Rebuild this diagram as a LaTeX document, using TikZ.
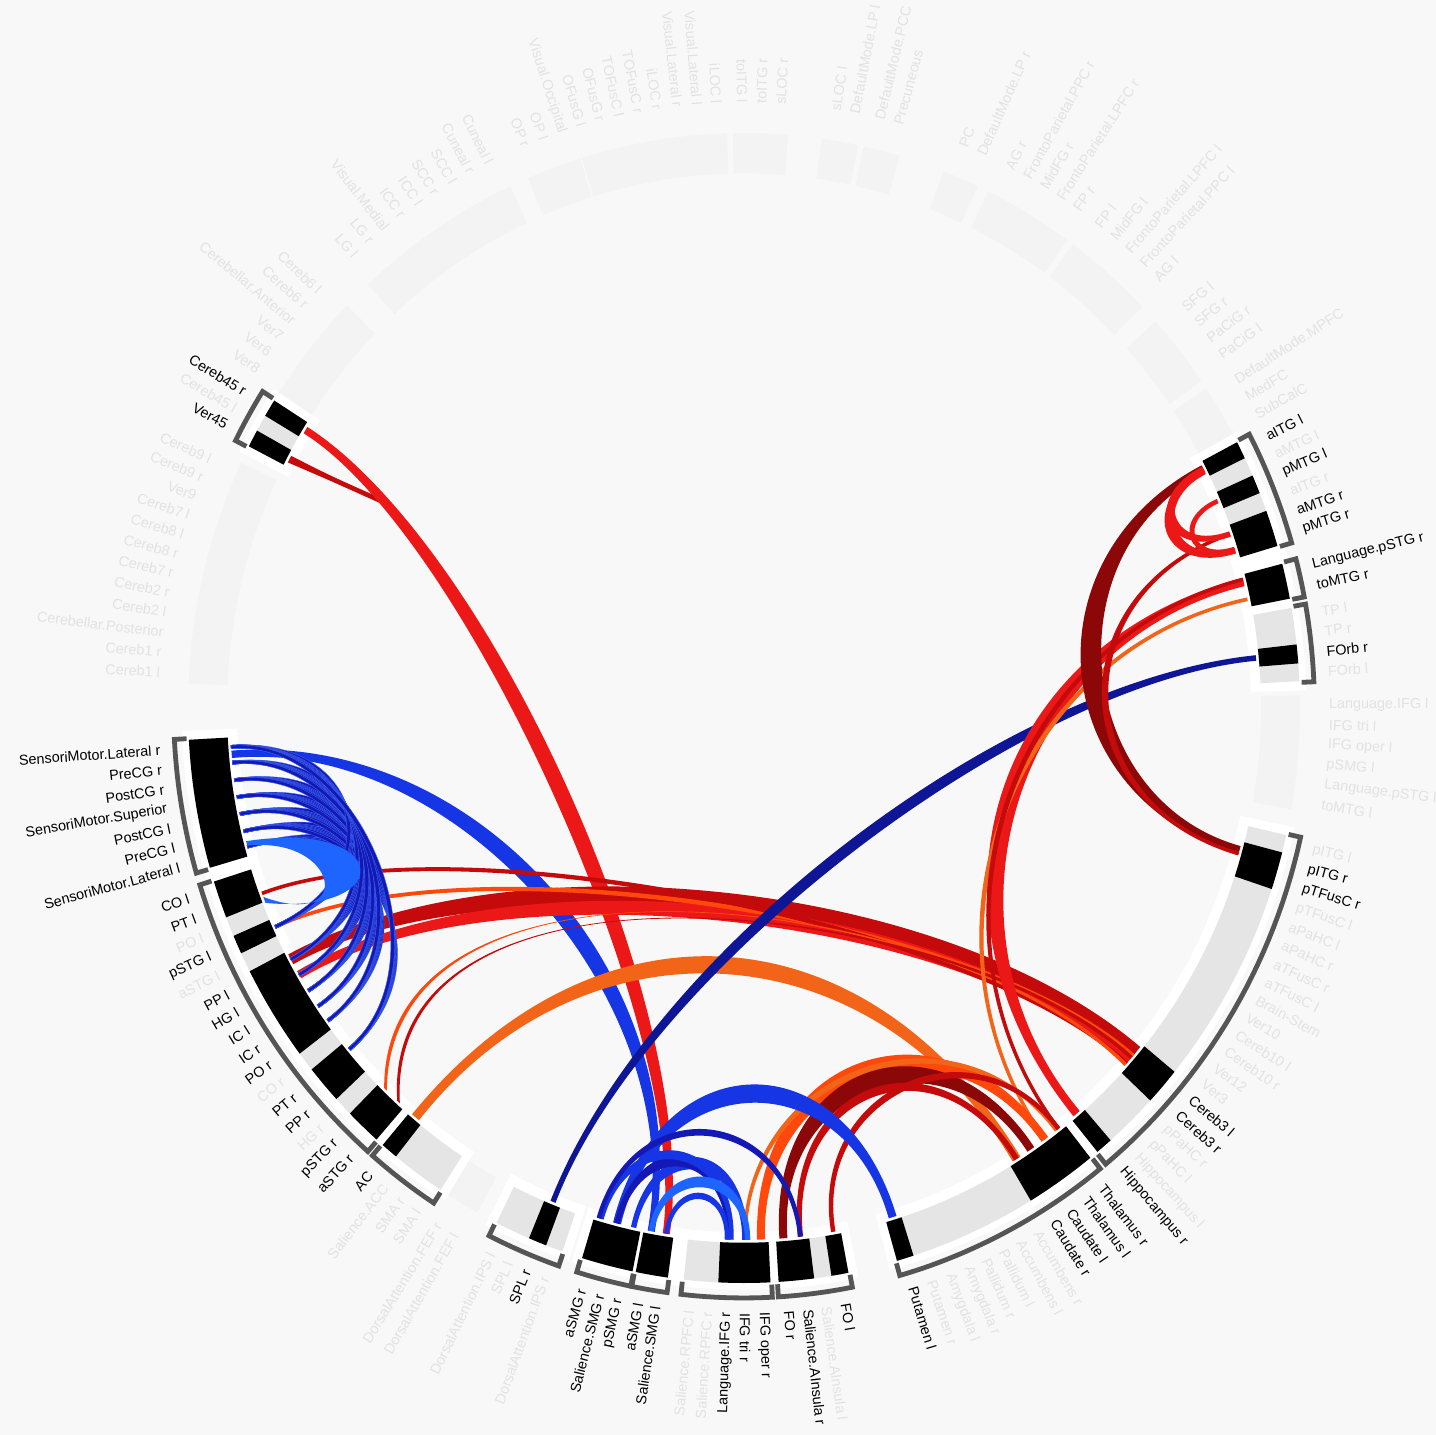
\documentclass[tikz,border=0pt]{standalone}
\usepackage{fontspec}
\setmainfont{Liberation Sans}
\usepackage{tikz}

\definecolor{cnBg}{RGB}{248,248,248}
\definecolor{cnFaintBand}{RGB}{243,243,243}
\definecolor{cnFaintText}{RGB}{226,226,226}
\definecolor{cnGrey}{RGB}{229,229,229}
\definecolor{cnBracket}{RGB}{85,85,85}
\definecolor{cnRed}{RGB}{236,24,24}
\definecolor{cnDarkRed}{RGB}{196,10,10}
\definecolor{cnMaroon}{RGB}{140,8,8}
\definecolor{cnOrange}{RGB}{242,100,24}
\definecolor{cnOrangeRed}{RGB}{255,72,12}
\definecolor{cnBlue}{RGB}{22,54,230}
\definecolor{cnNavy}{RGB}{14,22,150}
\definecolor{cnFan}{RGB}{20,24,180}
\definecolor{cnFanEdge}{RGB}{60,100,245}
\definecolor{cnLightBlue}{RGB}{30,100,255}
\definecolor{cnSky}{RGB}{60,130,255}

\tikzset{
  cn-on/.style={font=\fontsize{7.2}{8.6}\selectfont, inner sep=0.5pt, text=black},
  cn-off/.style={cn-on, text=cnFaintText},
  cn-bracket/.style={draw=cnBracket, line width=2.4pt, line join=miter},
  cn-fan/.style={fill=cnFan, draw=cnFanEdge, line width=0.2pt},
}

% ring segment: [style]{from}{to}{inner}{outer}
\newcommand\ringseg[5][]{%
  \fill[#1] (#2:#4) -- plot[domain=#2:#3, samples=24] (\x:#5)
    -- plot[domain=#3:#2, samples=24] (\x:#4) -- cycle;}

% ribbon: {phi1}{phi2}{control radius}{half spread}{end half width}{style}
\newcommand\chord[6]{%
  \pgfmathsetmacro\cha{#1+#5}\pgfmathsetmacro\chb{#2-#5}%
  \pgfmathsetmacro\chc{#2+#5}\pgfmathsetmacro\chd{#1-#5}%
  \pgfmathsetmacro\chhi{#3+#4}\pgfmathsetmacro\chlo{#3-#4}%
  \fill[#6] (\cha:0.925) .. controls (\cha:\chhi) and (\chb:\chhi) .. (\chb:0.925)
    -- (\chc:0.925) .. controls (\chc:\chlo) and (\chd:\chlo) .. (\chd:0.925) -- cycle;}

% radial label: {angle}{style}{text}
\newcommand\roilab[3]{%
  \pgfmathsetmacro\labc{cos(#1)}%
  \ifdim\labc pt<0pt
    \pgfmathsetmacro\labr{180-#1}%
    \node[#2, anchor=east, rotate=\labr] at (#1:1.05) {#3};%
  \else
    \pgfmathsetmacro\labr{-#1}%
    \node[#2, anchor=west, rotate=\labr] at (#1:1.05) {#3};%
  \fi}

\begin{document}
\begin{tikzpicture}[x=0.5pt, y=-0.5pt]
  \useasboundingbox (0,0) rectangle (1436,1435);
  \fill[cnBg] (0,0) rectangle (1436,1435);

  \begin{scope}[shift={(744,708)}, x=278pt, y=-287.5pt]
    % groups without connections
    \foreach \a/\b in {182.45/205.25, 213.05/224.45, 227.45/245.15, 247.15/252.85,
        253.05/268.25, 268.85/274.55, 278.05/281.85, 282.45/286.25, 291.05/294.85,
        296.05/305.55, 306.25/315.75, 317.75/325.35, 326.25/331.95, -1.25/10.15,
        118.65/122.45}
      {\ringseg[cnFaintBand]{\a}{\b}{0.93}{1.0}}

    % groups with connections: halo, grey slots, black slots, bracket
    \foreach \a/\b in {332.35/343.75, 345.35/349.15, 349.85/357.45, 12.65/50.65,
        51.35/74.15, 79.05/86.55, 87.15/96.35, 97.75/101.35, 101.45/107.05,
        108.95/116.55, 122.95/130.65, 131.25/162.55, 163.75/176.95, 206.95/212.45}
      {\pgfmathsetmacro\ha{\a-0.8}\pgfmathsetmacro\hb{\b+0.8}%
       \ringseg[white]{\ha}{\hb}{0.912}{1.012}}
    \foreach \a/\b in {332.35/343.75, 345.35/349.15, 349.85/357.45, 12.65/50.65,
        51.35/74.15, 79.05/86.55, 87.15/96.35, 97.75/101.35, 101.45/107.05,
        108.95/116.55, 122.95/130.65, 131.25/162.55, 163.75/176.95, 206.95/212.45}
      {\pgfmathsetmacro\ha{\a+0.12}\pgfmathsetmacro\hb{\b-0.12}%
       \ringseg[cnGrey]{\ha}{\hb}{0.93}{1.0}
       \draw[cn-bracket] (\a:1.004) -- plot[domain=\a:\b, samples=30] (\x:1.026) -- (\b:1.004);}
    \foreach \a/\b in {332.47/334.25, 336.15/338.05, 339.95/343.63, 345.47/349.03,
        353.65/355.55, 14.55/18.35, 39.25/43.05, 48.75/50.53, 51.47/58.95,
        72.25/74.03, 79.17/80.95, 82.75/86.43, 87.27/92.65, 97.87/101.23,
        101.57/106.93, 110.85/112.75, 128.75/130.53, 158.65/162.43, 154.75/156.65,
        143.05/152.75, 137.15/141.05, 131.37/135.15, 163.87/176.83,
        207.07/208.85, 210.55/212.33}
      {\ringseg[black]{\a}{\b}{0.93}{1.0}}

    % connections
    \fill[cnDarkRed] (207.5:0.925) .. controls (208.0:0.84) .. (208.6:0.74)
      -- (209.3:0.735) .. controls (208.5:0.845) .. (208.3:0.925) -- cycle;
    \chord{98.7}{211.5}{0.56}{0.024}{0.4}{cnRed}
    \chord{100.4}{175.0}{0.50}{0.020}{0.4}{cnBlue}
    \chord{40.2}{151.8}{0.50}{0.030}{0.6}{cnDarkRed}
    \chord{41.6}{149.9}{0.51}{0.020}{0.45}{cnRed}
    \chord{40.8}{155.7}{0.55}{0.005}{0.2}{cnOrangeRed}
    \chord{41.9}{159.6}{0.56}{0.005}{0.2}{cnDarkRed}
    \fill[cnOrangeRed] (134.0:0.925) .. controls (163.0:0.666) and (40.4:0.50) .. (42.3:0.925)
      -- (41.9:0.925) .. controls (40.0:0.49) and (162.6:0.68) .. (134.4:0.925) -- cycle;
    \fill[cnDarkRed] (132.0:0.925) .. controls (162.0:0.68) and (40.9:0.51) .. (41.3:0.925)
      -- (40.9:0.925) .. controls (40.5:0.50) and (161.6:0.69) .. (132.4:0.925) -- cycle;
    \chord{58.0}{129.7}{0.43}{0.020}{0.5}{cnOrange}
    \chord{354.6}{471.8}{0.48}{0.018}{0.3}{cnNavy}
    \chord{346.3}{409.7}{0.48}{0.022}{0.45}{cnRed}
    \chord{348.2}{414.2}{0.49}{0.005}{0.2}{cnOrange}
    \chord{346.0}{412.3}{0.49}{0.005}{0.2}{cnDarkRed}
    \chord{333.3}{375.5}{0.59}{0.024}{0.45}{cnMaroon}
    \chord{340.9}{375.9}{0.60}{0.007}{0.2}{cnDarkRed}
    \chord{333.3}{340.9}{0.81}{0.010}{0.3}{cnRed}
    \chord{333.6}{342.8}{0.80}{0.012}{0.3}{cnRed}
    \chord{337.1}{342.6}{0.84}{0.006}{0.25}{cnRed}
    \chord{54.2}{88.1}{0.62}{0.018}{0.45}{cnOrangeRed}
    \chord{52.6}{89.9}{0.63}{0.006}{0.2}{cnOrange}
    \chord{56.1}{85.6}{0.64}{0.020}{0.45}{cnMaroon}
    \chord{58.0}{83.7}{0.66}{0.009}{0.3}{cnDarkRed}
    \chord{52.3}{80.0}{0.68}{0.007}{0.25}{cnDarkRed}
    \chord{73.2}{104.3}{0.62}{0.020}{0.45}{cnBlue}
    \chord{89.9}{102.4}{0.76}{0.014}{0.3}{cnBlue}
    \chord{91.7}{104.3}{0.76}{0.012}{0.3}{cnFan}
    \chord{91.4}{106.1}{0.75}{0.010}{0.25}{cnBlue}
    \chord{89.6}{100.4}{0.80}{0.012}{0.3}{cnLightBlue}
    \chord{91.9}{98.7}{0.83}{0.007}{0.25}{cnBlue}
    \chord{83.7}{106.4}{0.70}{0.007}{0.25}{cnFan}
    \foreach \s in {164.9,166.6,168.5,170.35,172.2,174.1,175.8}
      \foreach \t in {155.7,151.8,149.9,147.9,145.9,144.0,140.1}
        {\chord{\t}{\s}{0.69}{0.004}{0.18}{cn-fan}}
    \fill[cnLightBlue] (165.5:0.925) .. controls (163:0.66) and (150:0.72) .. (158.5:0.925)
      -- (159.2:0.925) .. controls (151:0.80) and (163:0.76) .. (165.0:0.925) -- cycle;

    % labels
    \foreach \a/\s/\t in {183.4/off/Cereb1 l, 185.3/off/Cereb1 r, 187.2/off/Cerebellar.Posterior,
        189.1/off/Cereb2 l, 191.0/off/Cereb2 r, 192.9/off/Cereb7 r, 194.8/off/Cereb8 r,
        196.7/off/Cereb8 l, 198.6/off/Cereb7 l, 200.5/off/Ver9, 202.4/off/Cereb9 r,
        204.3/off/Cereb9 l,
        207.9/on/Ver45, 209.7/off/Cereb45 l, 211.5/on/Cereb45 r,
        214.0/off/Ver8, 215.9/off/Ver6, 217.8/off/Ver7, 219.7/off/Cerebellar.Anterior,
        221.6/off/Cereb6 r, 223.5/off/Cereb6 l,
        228.4/off/LG l, 230.4/off/LG r, 232.3/off/Visual.Medial, 234.3/off/ICC r,
        236.3/off/ICC l, 238.2/off/SCC r, 240.2/off/SCC l, 242.2/off/Cuneal r, 244.2/off/Cuneal l,
        248.1/off/OP r, 250.0/off/OP l, 251.9/off/Visual.Occipital,
        253.9/off/OFusG l, 255.8/off/OFusG r, 257.7/off/TOFusC l, 259.6/off/TOFusC r,
        261.5/off/iLOC r, 263.5/off/Visual.Lateral r, 265.4/off/Visual.Lateral l, 267.3/off/iLOC l,
        269.8/off/toITG l, 271.7/off/toITG r, 273.6/off/sLOC r,
        279.0/off/sLOC l, 280.9/off/DefaultMode.LP l, 283.4/off/DefaultMode.PCC, 285.3/off/Precuneous,
        292.0/off/PC, 293.9/off/DefaultMode.LP r,
        297.0/off/AG r, 298.9/off/FrontoParietal.PPC r, 300.8/off/MidFG r,
        302.7/off/FrontoParietal.LPFC r, 304.6/off/FP r,
        307.2/off/FP l, 309.1/off/MidFG l, 311.0/off/FrontoParietal.LPFC l,
        312.9/off/FrontoParietal.PPC l, 314.8/off/AG l,
        318.7/off/SFG l, 320.6/off/SFG r, 322.5/off/PaCiG r, 324.4/off/PaCiG l,
        327.2/off/DefaultMode.MPFC, 329.1/off/MedFC, 331.0/off/SubCalC,
        333.3/on/aITG l, 335.2/off/aMTG l, 337.1/on/pMTG l, 339.0/off/aITG r,
        340.9/on/aMTG r, 342.8/on/pMTG r,
        346.3/on/Language.pSTG r, 348.2/on/toMTG r,
        350.8/off/TP l, 352.7/off/TP r, 354.6/on/FOrb r, 356.5/off/FOrb l,
        -0.3/off/Language.IFG l, 1.6/off/IFG tri l, 3.5/off/IFG oper l, 5.4/off/pSMG l,
        7.3/off/Language.pSTG l, 9.2/off/toMTG l,
        13.6/off/pITG l, 15.5/on/pITG r, 17.4/on/pTFusC r, 19.3/off/pTFusC l,
        21.2/off/aPaHC l, 23.1/off/aPaHC r, 25.0/off/aTFusC r, 26.9/off/aTFusC l,
        28.8/off/Brain-Stem, 30.7/off/Ver10, 32.6/off/Cereb10 l, 34.5/off/Cereb10 r,
        36.4/off/Ver12, 38.3/off/Ver3, 40.2/on/Cereb3 l, 42.1/on/Cereb3 r,
        44.0/off/pPaHC r, 45.9/off/pPaHC l, 47.8/off/Hippocampus l, 49.7/on/Hippocampus r,
        52.3/on/Thalamus r, 54.2/on/Thalamus l, 56.1/on/Caudate l, 58.0/on/Caudate r,
        59.9/off/Accumbens r, 61.8/off/Accumbens l, 63.7/off/Pallidum l, 65.6/off/Pallidum r,
        67.5/off/Amygdala r, 69.4/off/Amygdala l, 71.3/off/Putamen r, 73.2/on/Putamen l,
        80.0/on/FO l, 81.9/off/Salience.AInsula l, 83.7/on/Salience.AInsula r, 85.6/on/FO r,
        88.1/on/IFG oper r, 89.9/on/IFG tri r, 91.7/on/Language.IFG r,
        93.6/off/Salience.RPFC r, 95.4/off/Salience.RPFC l,
        98.7/on/Salience.SMG l, 100.4/on/aSMG l,
        102.4/on/pSMG r, 104.3/on/Salience.SMG r, 106.1/on/aSMG r,
        109.9/off/DorsalAttention.IPS r, 111.8/on/SPL r, 113.7/off/SPL l,
        115.6/off/DorsalAttention.IPS l,
        119.6/off/DorsalAttention.FEF l, 121.5/off/DorsalAttention.FEF r,
        123.9/off/SMA l, 125.8/off/SMA r, 127.8/off/Salience.ACC, 129.7/on/AC,
        132.2/on/aSTG r, 134.2/on/pSTG r, 136.2/off/HG r, 138.1/on/PP r, 140.1/on/PT r,
        142.0/off/CO r, 144.0/on/PO r, 145.9/on/IC r, 147.9/on/IC l, 149.9/on/HG l,
        151.8/on/PP l, 153.8/off/aSTG l, 155.7/on/pSTG l, 157.7/off/PO l, 159.6/on/PT l,
        161.6/on/CO l,
        164.7/on/SensoriMotor.Lateral l, 166.6/on/PreCG l, 168.5/on/PostCG l,
        170.35/on/SensoriMotor.Superior, 172.2/on/PostCG r, 174.1/on/PreCG r,
        176.0/on/SensoriMotor.Lateral r}
      {\roilab{\a}{cn-\s}{\t}}
  \end{scope}
\end{tikzpicture}
\end{document}
